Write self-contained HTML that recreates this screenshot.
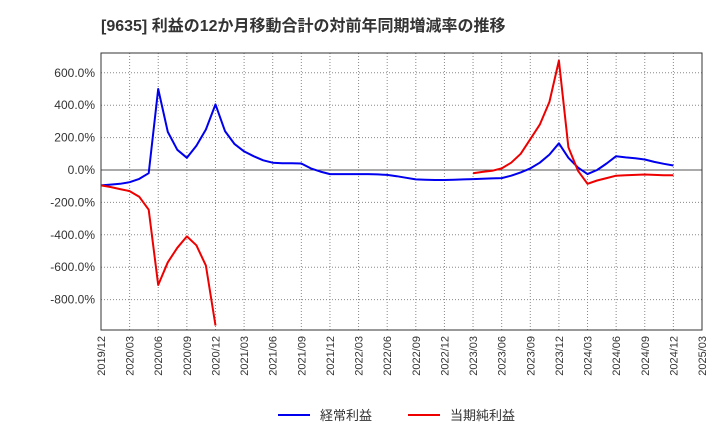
<!DOCTYPE html>
<html><head><meta charset="utf-8"><style>
body{margin:0;background:#fff;font-family:"Liberation Sans","Noto Sans CJK JP",sans-serif}
</style></head><body>
<svg width="720" height="440" xmlns="http://www.w3.org/2000/svg" font-family="Liberation Sans, Noto Sans CJK JP, sans-serif">
<text x="101" y="31" font-size="16" font-weight="bold" fill="#333">[9635]  利益の12か月移動合計の対前年同期増減率の推移</text>
<g id="grid"></g><g id="axes"></g><g id="series"></g>
<g>
<line x1="278" y1="415" x2="310" y2="415" stroke="#0000ee" stroke-width="2"/>
<text x="320" y="420" font-size="13" fill="#333">経常利益</text>
<line x1="408" y1="415" x2="440" y2="415" stroke="#ee0000" stroke-width="2"/>
<text x="450" y="420" font-size="13" fill="#333">当期純利益</text>
</g>
</svg>
<script>
const xLabels=["2019/12","2020/03","2020/06","2020/09","2020/12","2021/03","2021/06","2021/09","2021/12","2022/03","2022/06","2022/09","2022/12","2023/03","2023/06","2023/09","2023/12","2024/03","2024/06","2024/09","2024/12","2025/03"];
const yTicks=[600,400,200,0,-200,-400,-600,-800];
const ordinary=[-95,-90,-85,-75,-55,-20,500,235,125,75,150,250,405,240,160,115,85,60,45,42,42,40,10,-10,-25,-25,-25,-25,-25,-27,-30,-38,-48,-58,-60,-62,-62,-60,-58,-56,-54,-52,-50,-35,-15,10,45,95,165,75,15,-25,0,40,85,78,72,65,50,38,28];
const netIncome=[-95,-105,-118,-130,-165,-245,-710,-570,-480,-410,-465,-590,-960,null,null,null,null,null,null,null,null,null,null,null,null,null,null,null,null,null,null,null,null,null,null,null,null,null,null,-20,-12,-5,10,45,100,190,280,420,675,140,-5,-85,-65,-50,-35,-33,-30,-28,-30,-32,-33];
const X0=101,X1=702,Y0=53,Y1=330,MMAX=63;
const xs=i=>X0+(X1-X0)*i/MMAX;
const ys=v=>170-v*(32.4/200);
const NS="http://www.w3.org/2000/svg";
function mk(t,a,p){const e=document.createElementNS(NS,t);for(const k in a)e.setAttribute(k,a[k]);p.appendChild(e);return e;}
const grid=document.getElementById('grid'),axes=document.getElementById('axes'),ser=document.getElementById('series');
const frame=mk('rect',{x:X0,y:Y0,width:X1-X0,height:Y1-Y0,fill:'none',stroke:'#333','stroke-width':1},axes);


yTicks.forEach(v=>{
 const l=mk('line',{x1:X0,x2:X1,y1:ys(v),y2:ys(v),stroke:v===0?'#555':'#888','stroke-dasharray':v===0?'none':'1,2','stroke-width':1},grid);
 
 
 const t=mk('text',{x:X0-6,y:ys(v)+4,'text-anchor':'end','font-size':12,fill:'#333'},axes);
 t.textContent=v.toFixed(1)+'%';
 
 
});
xLabels.forEach((s,i)=>{
 const x=xs(i*3);
 const l=mk('line',{x1:x,x2:x,y1:Y0,y2:Y1,stroke:'#888','stroke-dasharray':'1,2'},grid);
 
 
 const t=mk('text',{x:x+4,y:Y1+6,'text-anchor':'end','font-size':11,fill:'#333',transform:`rotate(-90 ${x+4} ${Y1+6})`},axes);
 t.textContent=s;
 
 
});
function draw(arr,col,name){
 let d='',pen=false;
 arr.forEach((v,i)=>{if(v===null){pen=false;return;}d+=(pen?'L':'M')+xs(i).toFixed(1)+','+ys(v).toFixed(1);pen=true;});
 const p=mk('path',{d:d,fill:'none',stroke:col,'stroke-width':2,'stroke-linejoin':'round'},ser);
 
 
}
draw(ordinary,'#0000ee','ordinary-profit-line');
draw(netIncome,'#ee0000','net-income-line');
</script>
</body></html>
